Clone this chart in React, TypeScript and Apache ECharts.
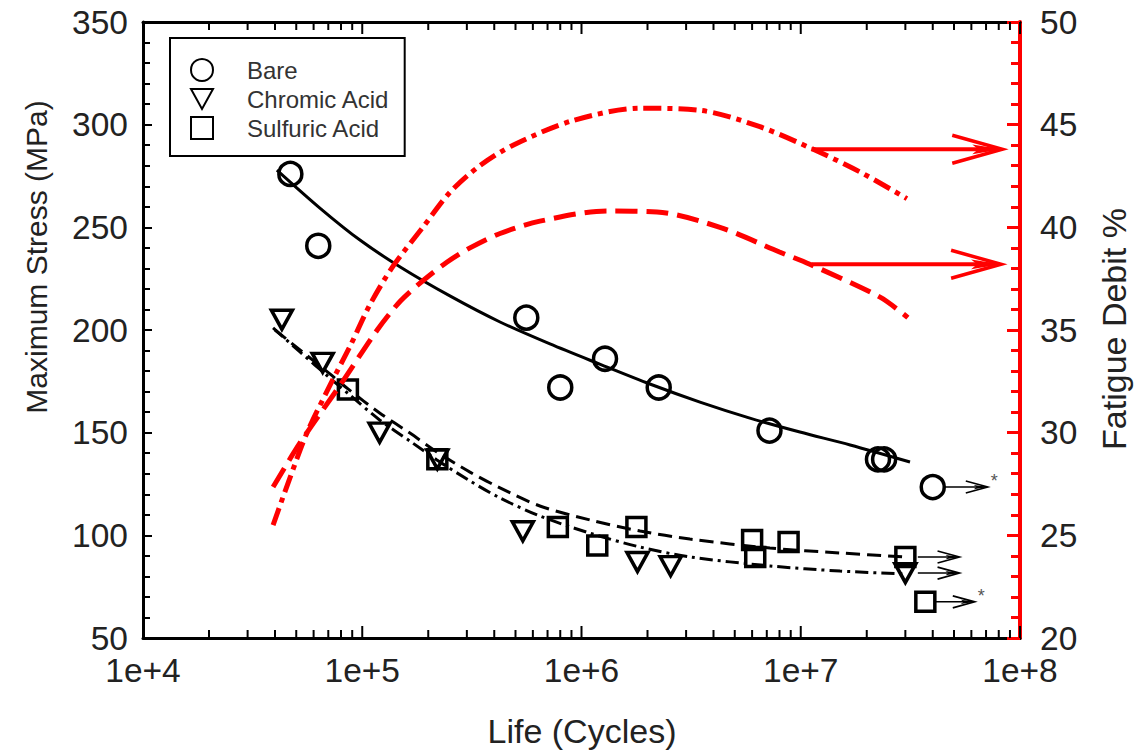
import React, { useEffect, useRef } from "react";
import * as echarts from "echarts";

// ---------- data ----------
const bareX = [4.7e4, 6.3e4, 5.6e5, 8.0e5, 1.28e6, 2.25e6, 7.2e6, 2.25e7, 2.4e7, 4.0e7];
const bareY = [276, 241, 206, 172, 186, 172, 151, 137, 137, 123.5];

const chromicX = [4.3e4, 6.6e4, 1.2e5, 2.2e5, 5.4e5, 1.8e6, 2.55e6, 3.0e7];
const chromicY = [205, 184, 150, 137, 102, 87, 85, 81.6];

const sulfuricX = [8.6e4, 2.2e5, 7.8e5, 1.18e6, 1.78e6, 6.0e6, 6.2e6, 8.8e6, 3.0e7, 3.7e7];
const sulfuricY = [171, 137, 104, 95, 104, 97.7, 89.4, 96.8, 89.4, 67.6];

// fitted curves (stress)
const bareFitX = [4.08e4, 6.41e4, 9.76e4, 1.49e5, 2.51e5, 4.25e5, 7.18e5, 1.21e6, 2.05e6, 3.47e6, 5.86e6, 9.91e6, 1.68e7, 3.15e7];
const bareFitY = [277.9, 259.4, 243.8, 230.7, 216.6, 203.9, 193.2, 183.4, 173.7, 164.9, 157.1, 150.3, 144.0, 135.7];
const chromicFitX = [3.92e4, 5.2e4, 7.12e4, 8.79e4, 1.2e5, 1.65e5, 2.19e5, 3.1e5, 4.25e5, 6.46e5, 1.09e6, 1.85e6, 3.12e6, 7.23e6, 1.51e7, 2.98e7];
const chromicFitY = [201.0, 189.3, 176.6, 168.3, 156.2, 145.9, 136.7, 126.5, 118.2, 109.4, 101.1, 94.3, 89.5, 85.1, 82.6, 81.2];
const sulfuricFitX = [4.0e4, 5.2e4, 7.12e4, 8.61e4, 1.2e5, 1.65e5, 2.19e5, 3.1e5, 4.25e5, 6.46e5, 1.09e6, 1.85e6, 3.12e6, 7.23e6, 1.51e7, 2.98e7];
const sulfuricFitY = [200.0, 190.3, 178.6, 171.3, 159.6, 149.8, 140.6, 130.8, 123.1, 114.3, 107.5, 102.1, 98.2, 93.8, 91.4, 89.5];

// fatigue debit curves (right axis, %)
const debitAX = [3.92e4, 4.68e4, 5.6e4, 7.12e4, 8.79e4, 1.08e5, 1.38e5, 1.89e5, 2.51e5, 3.44e5, 4.87e5, 9.14e5, 1.85e6, 3.47e6, 6.51e6, 1.14e7, 1.86e7, 3.05e7];
const debitAY = [25.5, 27.8, 30.0, 32.3, 34.2, 36.2, 38.1, 40.0, 41.7, 43.0, 44.0, 45.2, 45.8, 45.7, 44.9, 43.8, 42.7, 41.4];
const debitBX = [3.92e4, 5.2e4, 7.91e4, 1.17e5, 1.49e5, 1.89e5, 2.43e5, 3.1e5, 4.25e5, 6.46e5, 1.31e6, 2.21e6, 4.28e6, 8.0e6, 1.1e7, 2.3e7, 3.08e7];
const debitBY = [27.35, 29.5, 32.3, 35.0, 36.4, 37.4, 38.3, 39.0, 39.7, 40.3, 40.8, 40.75, 40.0, 38.8, 38.2, 36.6, 35.6];

// run-out arrows: [fromX, toX, stress, star]
const runoutArrows = [
  [4.54e7, 7.13e7, 123.5, 1],
  [3.42e7, 5.3e7, 89.4, 0],
  [3.42e7, 5.3e7, 81.6, 0],
  [4.08e7, 6.22e7, 67.6, 1],
];
// red arrows pointing to right axis: [fromX, toX, debit]
const debitArrows = [
  [1.12e7, 8.3e7, 43.8],
  [1.12e7, 8.2e7, 38.2],
];

const decades = [1e4, 1e5, 1e6, 1e7, 1e8];
const minorMultipliers = [2, 3, 4, 5, 6, 7, 8, 9];

const FONT = "'Liberation Sans', Arial, Helvetica, sans-serif";
const TXT = "#222";
const RED = "#ff0000";
const TRI = "path://M0,0 L20,0 L10,18 Z";

const zip = (xs: number[], ys: number[]) => xs.map((x, i) => [x, ys[i]]);

export default function App() {
  const ref = useRef<HTMLDivElement>(null);
  useEffect(() => {
    document.body.style.margin = "0";
    const chart = echarts.init(ref.current!, null, { renderer: "svg" });

    const tickData: number[][] = [];
    decades.forEach((d, i) => {
      tickData.push([d, 1]);
      if (i < decades.length - 1) minorMultipliers.forEach((m) => tickData.push([d * m, 0]));
    });

    const fitLine = (name: string, xs: number[], ys: number[], type: any) => ({
      name,
      type: "line",
      data: zip(xs, ys),
      smooth: 0.3,
      showSymbol: false,
      symbol: "none",
      lineStyle: { color: "#000", width: 3, type },
      z: 3,
    });

    const markers = (name: string, xs: number[], ys: number[], symbol: string, size: any) => ({
      name,
      type: "scatter",
      data: zip(xs, ys),
      symbol,
      symbolSize: size,
      itemStyle: { color: "rgba(255,255,255,0)", borderColor: "#000", borderWidth: 3.5, opacity: 1 },
      z: 4,
    });

    const arrowHead = (tx: number, ty: number, len: number, hw: number, fill: number, lw: number, color: string) => [
      {
        type: "polyline",
        shape: { points: [[tx - len, ty - hw], [tx, ty], [tx - len, ty + hw]] },
        style: { stroke: color, lineWidth: lw, fill: "none" },
      },
      {
        type: "polygon",
        shape: { points: [[tx, ty], [tx - fill, ty - hw * 0.35], [tx - fill * 0.8, ty], [tx - fill, ty + hw * 0.35]] },
        style: { fill: color },
      },
    ];

    chart.setOption({
      animation: false,
      textStyle: { fontFamily: FONT },
      grid: { left: 143, right: 114, top: 22, bottom: 113 },
      legend: {
        data: ["Bare", "Chromic Acid", "Sulfuric Acid"],
        orient: "vertical",
        left: 170,
        top: 38,
        padding: [20, 15, 16, 20],
        itemGap: 5,
        itemWidth: 22,
        itemHeight: 22,
        borderColor: "#000",
        borderWidth: 2,
        borderRadius: 0,
        backgroundColor: "#fff",
        textStyle: { fontSize: 24, color: "#333", fontFamily: FONT, padding: [0, 0, 0, 29] },
        z: 10,
      },
      xAxis: [
        {
          type: "log",
          logBase: 10,
          min: 1e4,
          max: 1e8,
          position: "bottom",
          axisLine: { lineStyle: { color: "#000", width: 3 } },
          axisTick: { show: false },
          splitLine: { show: false },
          axisLabel: {
            fontSize: 33.5,
            color: TXT,
            margin: 15,
            formatter: (v: number) => "1e+" + Math.round(Math.log10(v)),
          },
        },
        {
          type: "log",
          logBase: 10,
          min: 1e4,
          max: 1e8,
          position: "top",
          axisLine: { lineStyle: { color: "#000", width: 3 } },
          axisTick: { show: false },
          splitLine: { show: false },
          axisLabel: { show: false },
        },
      ],
      yAxis: [
        {
          type: "value",
          min: 50,
          max: 350,
          interval: 50,
          position: "left",
          axisLine: { show: true, lineStyle: { color: "#000", width: 3 } },
          axisTick: { inside: true, length: 9, lineStyle: { color: "#000", width: 2 } },
          minorTick: { show: true, splitNumber: 5, length: 7, lineStyle: { color: "#000", width: 2 } },
          splitLine: { show: false },
          axisLabel: { fontSize: 33.5, color: TXT, margin: 15 },
        },
        {
          type: "value",
          min: 20,
          max: 50,
          interval: 5,
          position: "right",
          axisLine: { show: true, lineStyle: { color: RED, width: 4 } },
          axisTick: { inside: true, length: 13, lineStyle: { color: RED, width: 3 } },
          minorTick: { show: true, splitNumber: 5, length: 9, lineStyle: { color: RED, width: 3 } },
          splitLine: { show: false },
          axisLabel: { fontSize: 33.5, color: TXT, margin: 20 },
        },
      ],
      graphic: [
        {
          type: "text",
          x: 582,
          y: 731,
          style: { text: "Life (Cycles)", fontSize: 34, fill: TXT, fontFamily: FONT, textAlign: "center", textVerticalAlign: "middle" },
        },
        {
          type: "text",
          x: 36,
          y: 257,
          rotation: Math.PI / 2,
          style: { text: "Maximum Stress (MPa)", fontSize: 30, fill: TXT, fontFamily: FONT, textAlign: "center", textVerticalAlign: "middle" },
        },
        {
          type: "text",
          x: 1114,
          y: 329,
          rotation: Math.PI / 2,
          style: { text: "Fatigue Debit %", fontSize: 34, fill: TXT, fontFamily: FONT, textAlign: "center", textVerticalAlign: "middle" },
        },
      ],
      series: [
        {
          name: "ticks",
          type: "custom",
          data: tickData,
          clip: false,
          silent: true,
          z: 5,
          renderItem: (params: any, api: any) => {
            const p = api.coord([api.value(0), 200]);
            const cs = params.coordSys;
            const len = api.value(1) ? 12 : 8;
            const b = cs.y + cs.height;
            return {
              type: "group",
              children: [
                { type: "line", shape: { x1: p[0], y1: b, x2: p[0], y2: b - len }, style: { stroke: "#000", lineWidth: 2 } },
                { type: "line", shape: { x1: p[0], y1: cs.y, x2: p[0], y2: cs.y + len }, style: { stroke: "#000", lineWidth: 2 } },
              ],
            };
          },
        },
        fitLine("bareFit", bareFitX, bareFitY, "solid"),
        fitLine("chromicFit", chromicFitX, chromicFitY, [13, 5, 3, 5]),
        fitLine("sulfuricFit", sulfuricFitX, sulfuricFitY, [14, 7]),
        markers("Bare", bareX, bareY, "circle", 23),
        markers("Chromic Acid", chromicX, chromicY, TRI, [21, 19]),
        markers("Sulfuric Acid", sulfuricX, sulfuricY, "rect", 19),
        {
          name: "runouts",
          type: "custom",
          data: runoutArrows,
          clip: false,
          silent: true,
          z: 4,
          renderItem: (params: any, api: any) => {
            const a = api.coord([api.value(0), api.value(2)]);
            const b = api.coord([api.value(1), api.value(2)]);
            const children: any[] = [
              { type: "line", shape: { x1: a[0], y1: a[1], x2: b[0] - 2, y2: b[1] }, style: { stroke: "#000", lineWidth: 1.5 } },
              ...arrowHead(b[0], b[1], 22, 6, 14, 1.6, "#000"),
            ];
            if (api.value(3)) {
              children.push({
                type: "text",
                x: b[0] + 3,
                y: b[1] - 6,
                style: { text: "*", fontSize: 18, fill: "#555", fontFamily: FONT, textVerticalAlign: "middle" },
              });
            }
            return { type: "group", children };
          },
        },
        {
          name: "debitA",
          type: "line",
          yAxisIndex: 1,
          data: zip(debitAX, debitAY),
          smooth: 0.3,
          symbol: "none",
          lineStyle: { color: RED, width: 5, type: [18, 6, 5, 6] },
          z: 6,
        },
        {
          name: "debitB",
          type: "line",
          yAxisIndex: 1,
          data: zip(debitBX, debitBY),
          smooth: 0.3,
          symbol: "none",
          lineStyle: { color: RED, width: 5, type: [22, 9] },
          z: 6,
        },
        {
          name: "debitArrows",
          type: "custom",
          yAxisIndex: 1,
          data: debitArrows,
          clip: false,
          silent: true,
          z: 6,
          renderItem: (params: any, api: any) => {
            const a = api.coord([api.value(0), api.value(2)]);
            const b = api.coord([api.value(1), api.value(2)]);
            return {
              type: "group",
              children: [
                { type: "line", shape: { x1: a[0], y1: a[1], x2: b[0] - 4, y2: b[1] }, style: { stroke: RED, lineWidth: 4 } },
                ...arrowHead(b[0], b[1], 50, 14, 30, 3.5, RED),
              ],
            };
          },
        },
      ],
    });
    return () => chart.dispose();
  }, []);
  return <div ref={ref} style={{ width: 1134, height: 751 }} />;
}
